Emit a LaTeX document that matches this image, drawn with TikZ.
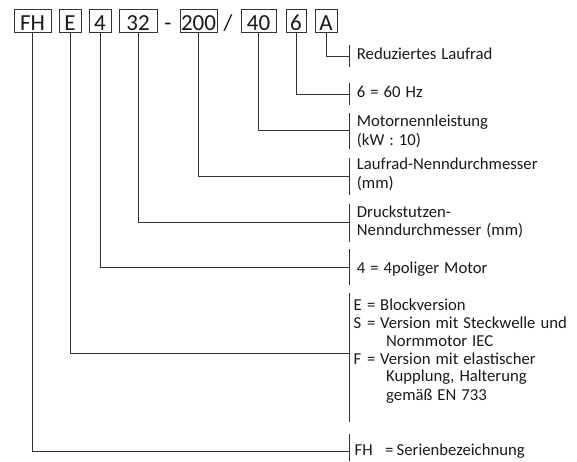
\documentclass[tikz,border=0pt]{standalone}
\usepackage{fontspec}
\setmainfont{Carlito}
\newcommand{\labfont}{\fontsize{16.7}{19}\selectfont\spaceskip=5pt plus 1pt minus 1pt\relax}
\newcommand{\codefont}{\fontsize{23}{25}\selectfont}
\begin{document}
\begin{tikzpicture}[x=1pt,y=-1pt,
  code/.style={draw=black!80,line width=0.8pt,inner sep=0pt,minimum height=23pt,
    text height=20pt,text depth=0pt,font=\codefont,text=black!90},
  sep/.style={inner sep=0pt,text height=20pt,text depth=0pt,font=\codefont,text=black!90},
  lab/.style={anchor=mid west,inner sep=0pt,font=\labfont,text=black!90},
  conn/.style={draw=black!80,line width=0.8pt},
  bar/.style={draw=black!80,line width=0.8pt}]
\useasboundingbox (0,0) rectangle (577,461);
% code boxes
\node[code,minimum width=37pt] (fh) at (32.5,20.5) {FH};
\node[code,minimum width=22pt] (e) at (70,20.5) {E};
\node[code,minimum width=22pt] (n4) at (100,20.5) {4};
\node[code,minimum width=38pt] (n32) at (138,20.5) {32};
\node[sep] (dash) at (168,20.5) {-};
\node[code,minimum width=37pt] (n200) at (198.5,20.5) {200};
\node[sep] (slash) at (228,20.5) {/};
\node[code,minimum width=35pt] (n40) at (258.5,20.5) {40};
\node[code,minimum width=20pt] (n6) at (296,20.5) {6};
\node[code,minimum width=22pt] (a) at (326,20.5) {A};
% bars
\def\bx{349.5}
\coordinate (b1t) at (\bx,45);    \coordinate (b1b) at (\bx,66.7);
\coordinate (b2t) at (\bx,82.7);  \coordinate (b2b) at (\bx,105);
\coordinate (b3t) at (\bx,113);   \coordinate (b3b) at (\bx,149);
\coordinate (b4t) at (\bx,158);   \coordinate (b4b) at (\bx,195);
\coordinate (b5t) at (\bx,204);   \coordinate (b5b) at (\bx,241.7);
\coordinate (b6t) at (\bx,249);   \coordinate (b6b) at (\bx,285);
\coordinate (b7t) at (\bx,293);   \coordinate (b7b) at (\bx,422);
\coordinate (b8t) at (\bx,434);   \coordinate (b8b) at (\bx,461);
\foreach \i in {1,...,8} {\draw[bar] (b\i t) -- (b\i b);}
% connector ends
\coordinate (hA) at (\bx,56);
\coordinate (h6) at (\bx,94);
\coordinate (h40) at (\bx,130);
\coordinate (h200) at (\bx,176.7);
\coordinate (h32) at (\bx,222.7);
\coordinate (h4) at (\bx,267.3);
\coordinate (hE) at (\bx,353.3);
\coordinate (hFH) at (\bx,451.5);
\draw[conn] (a.south) |- (hA);
\draw[conn] (n6.south) |- (h6);
\draw[conn] (n40.south) |- (h40);
\draw[conn] (n200.south) |- (h200);
\draw[conn] (n32.south) |- (h32);
\draw[conn] (n4.south) |- (h4);
\draw[conn] (e.south) |- (hE);
\draw[conn] (fh.south) |- (hFH);
% labels
\node[lab] (l1) at (356.7,56.7) {Reduziertes Laufrad};
\node[lab] (l2) at (356.7,95) {6 = 60 Hz};
\node[lab] (l3a) at (356.7,124.3) {Motornennleistung};
\node[lab] (l3b) at (356.7,143.3) {(kW : 10)};
\node[lab] (l4a) at (356.7,166.7) {Laufrad-Nenndurchmesser};
\node[lab] (l4b) at (356.7,186) {(mm)};
\node[lab] (l5a) at (356.7,215) {Druckstutzen-};
\node[lab] (l5b) at (356.7,233.3) {Nenndurchmesser (mm)};
\node[lab] (l6) at (356.7,270.7) {4 = 4poliger Motor};
% block
\node[lab] (k1) at (353.5,308.3) {E};
\node[lab] (q1) at (367,308.3) {=};
\node[lab] (t1) at (380,308.3) {Blockversion};
\node[lab] (k2) at (353.5,326) {S};
\node[lab] (q2) at (367,326) {=};
\node[lab] (t2) at (380,326) {Version mit Steckwelle und};
\node[lab] (t3) at (386,344) {Normmotor IEC};
\node[lab] (k4) at (353.5,361.7) {F};
\node[lab] (q4) at (367,361.7) {=};
\node[lab] (t4) at (380,361.7) {Version mit elastischer};
\node[lab] (t5) at (386,379.3) {Kupplung, Halterung};
\node[lab] (t6) at (386,398.3) {gemäß EN 733};
\node[lab] (k8) at (354.5,453.5) {FH};
\node[lab] (q8) at (385,453.5) {=};
\node[lab] (t8) at (396.5,453.5) {Serienbezeichnung};
\end{tikzpicture}
\end{document}
